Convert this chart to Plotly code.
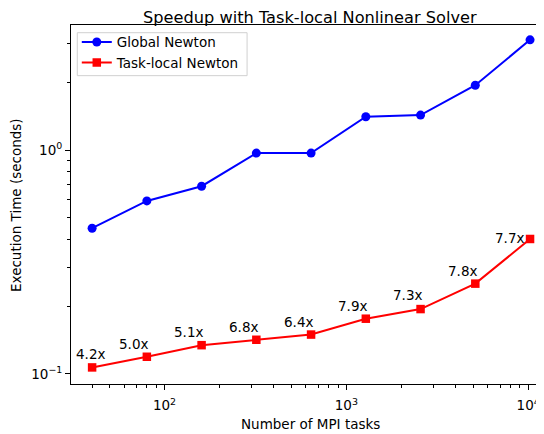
import plotly.graph_objects as go
import numpy as np

mpi_tasks = [40, 80, 160, 320, 640, 1280, 2560, 5120, 10240]
global_newton = [0.448, 0.593, 0.69, 0.97, 0.97, 1.41, 1.434, 1.95, 3.11]
task_local_newton = [0.107, 0.1194, 0.1345, 0.1422, 0.150, 0.1766, 0.195, 0.2533, 0.401]
speedup_labels = ["4.2x", "5.0x", "5.1x", "6.8x", "6.4x", "7.9x", "7.3x", "7.8x", "7.7x"]
# label offsets in pixels (x, y)
label_shifts = [(-1.5, 13), (-13, 13), (-13, 13), (-13, 13), (-13, 13),
                (-13, 13), (-13, 14), (-13, 13), (-21, 1)]

FONT = "DejaVu Sans"
fs = 13.5
W, H = 544, 434
OFF = 8  # page body offset
L, R, T, B = 62.7, 1.7, 17.3, 57.5
pw = W - L - R
ph = H - T - B


def px(sx):
    return (sx - OFF - L) / pw


def py(sy):
    return (H - B - (sy - OFF)) / ph


fig = go.Figure()
fig.add_trace(go.Scatter(x=mpi_tasks, y=global_newton, mode="lines+markers",
                         name="Global Newton",
                         line=dict(color="#0000ff", width=2),
                         marker=dict(symbol="circle", size=9, color="#0000ff")))
fig.add_trace(go.Scatter(x=mpi_tasks, y=task_local_newton, mode="lines+markers",
                         name="Task-local Newton",
                         line=dict(color="#ff0000", width=2),
                         marker=dict(symbol="square", size=8.5, color="#ff0000")))

for xv, yv, lab, (dx, dy) in zip(mpi_tasks, task_local_newton, speedup_labels, label_shifts):
    fig.add_annotation(x=np.log10(xv), y=np.log10(yv), text=lab, showarrow=False,
                       xanchor="center", yanchor="middle", xshift=dx, yshift=dy,
                       font=dict(family=FONT, size=fs, color="#000000"))

fig.add_annotation(xref="paper", yref="paper", x=px(310), y=py(425),
                   text="Number of MPI tasks", showarrow=False, xanchor="center", yanchor="middle",
                   font=dict(family=FONT, size=fs, color="#000000"))
fig.add_annotation(xref="paper", yref="paper", x=px(15), y=py(205),
                   text="Execution Time (seconds)", showarrow=False, textangle=-90,
                   xanchor="center", yanchor="middle",
                   font=dict(family=FONT, size=fs, color="#000000"))
fig.add_annotation(xref="paper", yref="paper", x=px(310), y=py(8), yshift=1, borderpad=0,
                   text="Speedup with Task-local Nonlinear Solver", showarrow=False,
                   xanchor="center", yanchor="top",
                   font=dict(family=FONT, size=16.2, color="#000000"))

# legend frame
fig.add_shape(type="rect", xref="paper", yref="paper",
              x0=px(77), x1=px(247), y0=py(76), y1=py(33),
              line=dict(color="#d0d0d0", width=1), fillcolor="rgba(255,255,255,0.85)",
              layer="above")

minor_x = [m * 10 ** d for d in range(1, 5) for m in range(2, 10)]
minor_y = [m * 10 ** d for d in range(-2, 1) for m in range(2, 10)]

fig.update_layout(
    width=W, height=H,
    margin=dict(l=L, r=R, t=T, b=B, autoexpand=False),
    plot_bgcolor="white", paper_bgcolor="white",
    font=dict(family=FONT, size=fs, color="#000000"),
    showlegend=True,
    legend=dict(x=px(76.5), y=py(27), xanchor="left", yanchor="top",
                bgcolor="rgba(0,0,0,0)", borderwidth=0,
                font=dict(family=FONT, size=fs), tracegroupgap=0),
    xaxis=dict(type="log", range=[1.486, 4.12], automargin=False,
               showline=True, linecolor="#000000", linewidth=1, mirror=True,
               showgrid=False, zeroline=False,
               ticks="outside", ticklen=5, tickwidth=1, tickcolor="#000000",
               ticklabelstandoff=4,
               tickmode="array", tickvals=[100, 1000, 10000],
               ticktext=["10<sup>2</sup>", "10<sup>3</sup>", "10<sup>4</sup>"],
               minor=dict(ticks="outside", ticklen=3, tickwidth=0.8, tickcolor="#000000",
                          tickmode="array", tickvals=minor_x, showgrid=False)),
    yaxis=dict(type="log", range=[-1.0447, 0.559], automargin=False,
               showline=True, linecolor="#000000", linewidth=1, mirror=True,
               showgrid=False, zeroline=False,
               ticks="outside", ticklen=5, tickwidth=1, tickcolor="#000000",
               tickmode="array", tickvals=[0.1, 1],
               ticktext=["10<sup>\u22121</sup>", "10<sup>0</sup>"],
               minor=dict(ticks="outside", ticklen=3, tickwidth=0.8, tickcolor="#000000",
                          tickmode="array", tickvals=minor_y, showgrid=False)),
)

fig.write_html("out.html")
